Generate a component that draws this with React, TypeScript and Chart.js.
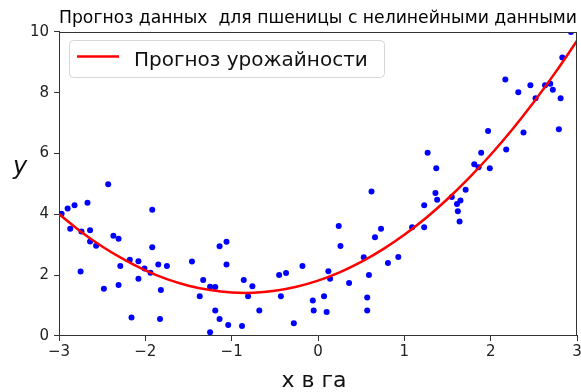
import React, { useEffect, useRef } from "react";
import { Chart, registerables } from "chart.js";

Chart.register(...registerables);

const titleText = "Прогноз данных  для пшеницы с нелинейными данными";
const legendLabel = "Прогноз урожайности";
const xAxisLabel = "x в га";
const yAxisLabel = "y";

const xTicks = [-3, -2, -1, 0, 1, 2, 3];
const yTicks = [0, 2, 4, 6, 8, 10];

const pointsX = [
  -2.97, -2.9, -2.82, -2.67, -2.43, -2.87, -2.74, -2.64, -2.64, -2.57,
  -2.75, -2.37, -2.31, -1.92, -1.92, -2.18, -2.08, -2.29, -2.01, -1.94,
  -1.85, -1.75, -2.08, -1.82, -2.48, -2.31, -2.16, -1.83, -1.46, -1.33,
  -1.37, -1.25, -1.19, -1.14, -1.06, -1.06, -1.19, -1.14, -1.25, -1.04,
  -0.88, -0.86, -0.76, -0.81, -0.68, -0.45, -0.37, -0.43, -0.28, -0.18,
  -0.06, -0.05, 0.07, 0.1, 0.12, 0.14, 0.24, 0.26, 0.36, 0.62,
  0.66, 0.73, 0.53, 0.59, 0.57, 0.57, 0.81, 0.93, 1.09, 1.23,
  1.23, 1.36, 1.38, 1.55, 1.61, 1.65, 1.71, 1.62, 1.64, 2.93,
  2.83, 2.17, 2.32, 2.46, 2.52, 2.63, 2.69, 2.72, 2.81, 2.79,
  1.97, 2.38, 2.18, 1.89, 1.27, 1.37, 1.81, 1.86, 1.99,
];
const pointsY = [
  4.02, 4.19, 4.3, 4.38, 4.99, 3.53, 3.44, 3.48, 3.11, 2.97,
  2.12, 3.3, 3.2, 4.15, 2.92, 2.51, 2.46, 2.3, 2.22, 2.08,
  2.35, 2.3, 1.88, 1.51, 1.55, 1.68, 0.61, 0.56, 2.45, 1.84,
  1.31, 1.62, 1.61, 2.95, 3.1, 2.35, 0.84, 0.56, 0.12, 0.36,
  0.33, 1.84, 1.64, 1.31, 0.84, 2.01, 2.07, 1.31, 0.42, 2.3,
  1.17, 0.84, 1.31, 0.79, 2.13, 1.88, 3.62, 2.96, 1.74, 4.75,
  3.25, 3.53, 2.59, 2.01, 1.27, 0.84, 2.4, 2.6, 3.58, 3.58,
  4.3, 4.7, 4.48, 4.57, 4.34, 4.46, 4.81, 4.1, 3.77, 10.0,
  9.16, 8.44, 8.02, 8.25, 7.82, 8.25, 8.3, 8.1, 7.82, 6.8,
  6.74, 6.69, 6.13, 6.03, 6.03, 5.52, 5.65, 5.55, 5.52,
];

const curveX = [
  -3, -2.75, -2.5, -2.25, -2, -1.75, -1.5, -1.25, -1, -0.75, -0.5, -0.25, 0,
  0.25, 0.5, 0.75, 1, 1.25, 1.5, 1.75, 2, 2.25, 2.5, 2.75, 3,
];
const curveY = [
  4.01, 3.44, 2.945, 2.52, 2.16, 1.87, 1.655, 1.51, 1.43, 1.42, 1.485, 1.62, 1.82,
  2.09, 2.435, 2.85, 3.33, 3.88, 4.505, 5.2, 5.96, 6.79, 7.695, 8.67, 9.71,
];

const FONT = '"DejaVu Sans", sans-serif';

const decorPlugin = {
  id: "decor",
  afterDraw(chart: any) {
    const { ctx, chartArea } = chart;
    const { left, right, top, bottom } = chartArea;
    ctx.save();
    // top & right spines
    ctx.strokeStyle = "#333";
    ctx.lineWidth = 1;
    ctx.beginPath();
    ctx.moveTo(left, Math.round(top) + 0.5);
    ctx.lineTo(right, Math.round(top) + 0.5);
    ctx.moveTo(Math.round(right) - 0.5, top);
    ctx.lineTo(Math.round(right) - 0.5, bottom);
    ctx.stroke();

    // legend
    const bx = 69.5, by = 40.5, bw = 315, bh = 37, r = 4;
    ctx.beginPath();
    ctx.moveTo(bx + r, by);
    ctx.lineTo(bx + bw - r, by);
    ctx.quadraticCurveTo(bx + bw, by, bx + bw, by + r);
    ctx.lineTo(bx + bw, by + bh - r);
    ctx.quadraticCurveTo(bx + bw, by + bh, bx + bw - r, by + bh);
    ctx.lineTo(bx + r, by + bh);
    ctx.quadraticCurveTo(bx, by + bh, bx, by + bh - r);
    ctx.lineTo(bx, by + r);
    ctx.quadraticCurveTo(bx, by, bx + r, by);
    ctx.closePath();
    ctx.fillStyle = "rgba(255,255,255,0.8)";
    ctx.fill();
    ctx.strokeStyle = "#d6d6d6";
    ctx.stroke();
    ctx.strokeStyle = "#ff0000";
    ctx.lineWidth = 2.5;
    ctx.beginPath();
    ctx.moveTo(77, 56.5);
    ctx.lineTo(119, 56.5);
    ctx.stroke();
    ctx.fillStyle = "#111";
    ctx.font = `20px ${FONT}`;
    ctx.textAlign = "left";
    ctx.textBaseline = "alphabetic";
    ctx.fillText(legendLabel, 134, 65.5);

    // axis labels
    ctx.font = `italic 24px ${FONT}`;
    ctx.textAlign = "center";
    ctx.fillText(yAxisLabel, 20, 174);
    ctx.font = `22px ${FONT}`;
    ctx.fillText(xAxisLabel, (left + right) / 2 - 4, 387);
    ctx.restore();
  },
};

export default function App() {
  const ref = useRef<HTMLCanvasElement>(null);
  useEffect(() => {
    if (!ref.current) return;
    const chart = new Chart(ref.current, {
      type: "scatter",
      data: {
        datasets: [
          {
            label: legendLabel,
            data: curveX.map((x, i) => ({ x, y: curveY[i] })),
            showLine: true,
            borderColor: "#ff0000",
            borderWidth: 2.5,
            pointRadius: 0,
            tension: 0.4,
            order: 0,
          },
          {
            label: "data",
            data: pointsX.map((x, i) => ({ x, y: pointsY[i] })),
            backgroundColor: "#0000ff",
            borderColor: "#0000ff",
            borderWidth: 0,
            pointRadius: 3,
            showLine: false,
            order: 1,
          },
        ],
      },
      options: {
        responsive: false,
        animation: false,
        devicePixelRatio: 1,
        layout: { padding: { left: 0, right: 4, top: 0, bottom: 0 } },
        plugins: {
          legend: { display: false },
          tooltip: { enabled: false },
          title: {
            display: true,
            text: titleText,
            fullSize: false,
            color: "#000",
            font: { family: FONT, size: 18.3, weight: "normal" },
            padding: { top: 7, bottom: 3 },
          },
        },
        scales: {
          x: {
            type: "linear",
            min: -3,
            max: 3,
            afterBuildTicks: (s: any) => {
              s.ticks = xTicks.map((v) => ({ value: v }));
            },
            afterFit: (s: any) => {
              s.height = 56;
              s.paddingLeft = 0;
              s.paddingRight = 0;
            },
            ticks: {
              color: "#222",
              font: { family: FONT, size: 15 },
              padding: 2,
              maxRotation: 0,
              autoSkip: false,
              callback: (v: any) => String(v).replace("-", "\u2212"),
            },
            grid: { drawOnChartArea: false, drawTicks: true, tickLength: 5, color: "#333" },
            border: { display: true, color: "#333", width: 1 },
          },
          y: {
            type: "linear",
            min: 0,
            max: 10,
            afterBuildTicks: (s: any) => {
              s.ticks = yTicks.map((v) => ({ value: v }));
            },
            afterFit: (s: any) => {
              s.width = 59;
              s.paddingTop = 0;
              s.paddingBottom = 0;
            },
            ticks: {
              color: "#222",
              font: { family: FONT, size: 15 },
              padding: 5,
              autoSkip: false,
            },
            grid: { drawOnChartArea: false, drawTicks: true, tickLength: 5, color: "#333" },
            border: { display: true, color: "#333", width: 1 },
          },
        },
      },
      plugins: [decorPlugin],
    });
    return () => chart.destroy();
  }, []);
  return (
    <div style={{ position: "fixed", left: 0, top: 0, width: 581, height: 392, background: "#fff" }}>
      <canvas ref={ref} width={581} height={392} style={{ width: 581, height: 392, display: "block" }} />
    </div>
  );
}
